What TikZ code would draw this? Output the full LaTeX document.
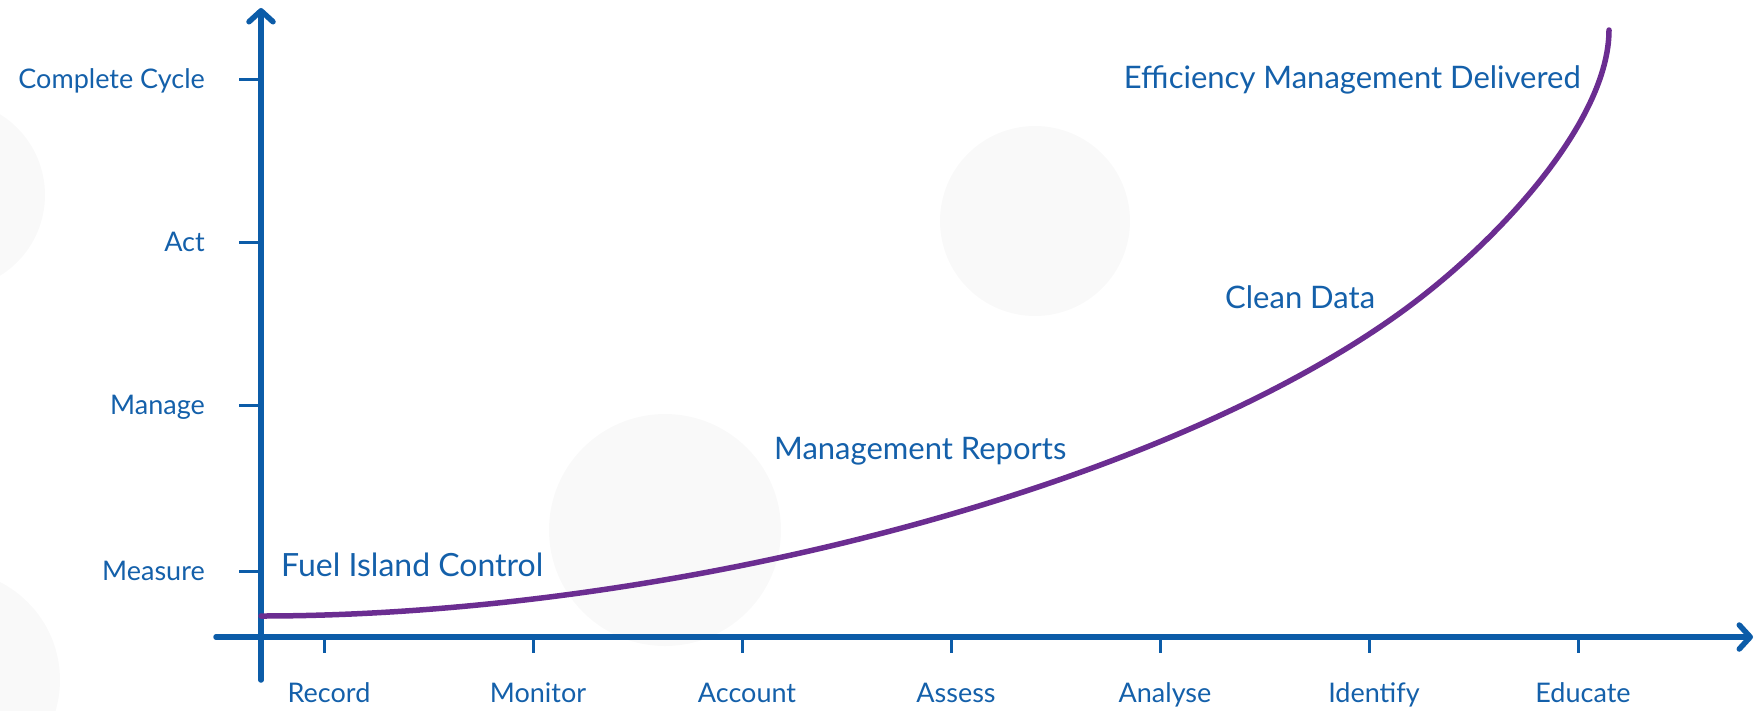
\documentclass[tikz,border=0pt]{standalone}
\usepackage{fontspec}
\setmainfont{Lato}
\usetikzlibrary{arrows.meta}
\definecolor{axisblue}{RGB}{12,92,168}
\definecolor{textblue}{RGB}{20,96,170}
\definecolor{curvepurple}{RGB}{107,45,145}
\definecolor{bgcircle}{RGB}{249,249,249}
\begin{document}
\begin{tikzpicture}[x=1pt,y=-1pt,
  axisline/.style={draw=axisblue,line width=5.5pt,line cap=round,
    -{Straight Barb[length=11pt,width=24pt,line cap=round,line join=round]}},
  tickline/.style={draw=axisblue,line width=3pt},
  lbl/.style={text=textblue,font=\fontsize{27}{32}\selectfont,inner sep=0pt},
  biglbl/.style={text=textblue,font=\fontsize{31}{36}\selectfont,inner sep=0pt},
  ylbl/.style={lbl,anchor=base east},
  xlbl/.style={lbl,anchor=base},
  clbl/.style={biglbl,anchor=base west},
  curveline/.style={draw=curvepurple,line width=5.5pt,line cap=round}
]
\useasboundingbox (0,0) rectangle (1762,710);
% background circles
\fill[bgcircle] (-50,195) circle (95pt);
\fill[bgcircle] (-50,680) circle (110pt);
\fill[bgcircle] (665,530) circle (116pt);
\fill[bgcircle] (1035,221) circle (95pt);
% axes
\coordinate (ybot) at (261,680);
\coordinate (ytop) at (261,8);
\coordinate (xleft) at (216,637);
\coordinate (xright) at (1753,637);
\draw[axisline] (ybot) -- (ytop);
\draw[axisline] (xleft) -- (xright);
% y ticks and labels
\foreach \yy/\name/\txt in {79/cc/Complete Cycle,242/act/Act,405/man/Manage,571/mea/Measure}{
  \coordinate (yt\name) at (239,\yy);
  \draw[tickline] (yt\name) -- ++(22,0);
  \node[ylbl] (yl\name) at (205,\yy+9) {\txt};
}
% x ticks and labels
\foreach \xx/\name/\txt in {324/rec/Record,533/mon/Monitor,742/acc/Account,951/ass/Assess,1160/ana/Analyse,1369/ide/Identify,1578/edu/Educate}{
  \coordinate (xt\name) at (\xx,637);
  \draw[tickline] (xt\name) -- ++(0,16);
  \node[xlbl] (xl\name) at (\xx+5,702) {\txt};
}
% curve
\coordinate (cstart) at (261,616);
\coordinate (cmid) at (1400,313);
\coordinate (cend) at (1609,30);
\draw[curveline] (cstart) .. controls (661,616) and (1150,493) .. (cmid)
  .. controls (1500,241) and (1609,120) .. (cend);
% curve labels
\node[clbl,font=\fontsize{32}{36}\selectfont] (fic) at (281,576) {Fuel Island Control};
\node[clbl] (mr) at (774,459) {Management Reports};
\node[clbl] (cd) at (1225,308) {Clean Data};
\node[biglbl,anchor=base east] (emd) at (1581,88) {Efficiency Management Delivered};
\end{tikzpicture}
\end{document}
